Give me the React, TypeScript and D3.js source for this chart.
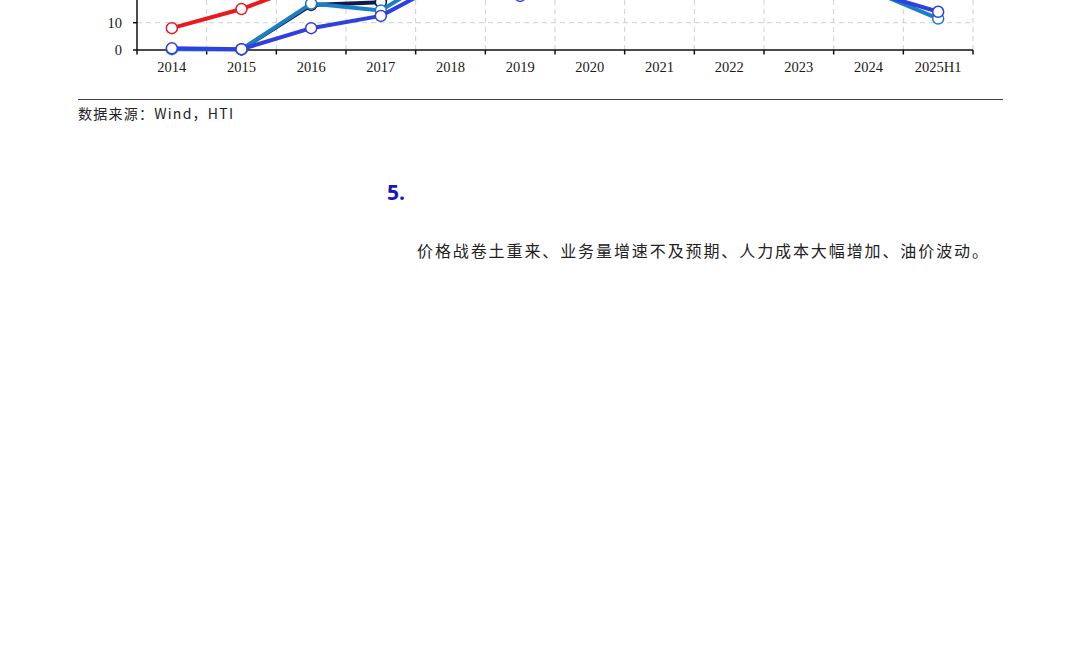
import * as d3 from 'd3';

// Categories on the x axis
const years = ['2014', '2015', '2016', '2017', '2018', '2019', '2020', '2021', '2022', '2023', '2024', '2025H1'];

// Series values (values above ~20 sit above the cropped top edge, estimated from line angles)
const redSeries: (number | null)[] = [8, 15, 24.5, 32, 38, 42, 45, 46, 44, 40, 36, 30];
const navySeries: (number | null)[] = [null, 0.2, 16.5, 17.5, 35, 40, 42, 43, 41, 38, 33, 26];
const tealSeries: (number | null)[] = [0.3, 0.2, 17, 14.5, 30, 33, 35, 36, 33, 29, 22.2, 11.5];
const blueSeries: (number | null)[] = [0.6, 0.3, 8, 12.5, 26, 19.8, 24, 27, 28, 26, 21.6, 14];

const yTicks = [0, 10, 20];

const series = [
  { name: 'red', values: redSeries, color: '#e8191f' },
  { name: 'navy', values: navySeries, color: '#0d1b4f' },
  { name: 'teal', values: tealSeries, color: '#1b7fc4' },
  { name: 'blue', values: blueSeries, color: '#2f3fe0' },
];

export default function App() {
  const left = 137;
  const right = 973;
  const baseY = 50;
  const pxPerUnit = 2.73;

  const x = d3.scaleBand<string>().domain(years).range([left, right]);
  const y = d3.scaleLinear().domain([0, 60]).range([baseY, baseY - 60 * pxPerUnit]);
  const cx = (yr: string) => (x(yr) ?? 0) + x.bandwidth() / 2;

  const line = d3.line<number | null>()
    .defined(d => d != null)
    .x((_, i) => cx(years[i]))
    .y(d => y(d as number));

  const boundaries = years.map(yr => (x(yr) ?? 0) + x.bandwidth());

  return (
    <div style={{ position: 'absolute', left: 0, top: 0 }}>
      <svg width={1080} height={669} style={{ display: 'block', background: '#fff' }}>
        {/* grid */}
        {yTicks.filter(t => t > 0).map(t => (
          <line key={'h' + t} x1={left} x2={right} y1={y(t)} y2={y(t)}
            stroke="#cfcfcf" strokeWidth={1} strokeDasharray="5,4" />
        ))}
        {boundaries.map((bx, i) => (
          <line key={'v' + i} x1={bx} x2={bx} y1={baseY} y2={y(60)}
            stroke="#cfcfcf" strokeWidth={1} strokeDasharray="5,4" />
        ))}

        {/* axes */}
        <line x1={left} x2={left} y1={baseY} y2={y(60)} stroke="#111" strokeWidth={1.5} />
        <line x1={left} x2={right} y1={baseY} y2={baseY} stroke="#111" strokeWidth={1.5} />
        {[left, ...boundaries].map((bx, i) => (
          <line key={'t' + i} x1={bx} x2={bx} y1={baseY} y2={baseY + 4.5} stroke="#111" strokeWidth={1.5} />
        ))}
        {yTicks.map(t => (
          <g key={'yt' + t}>
            <line x1={left - 4} x2={left} y1={y(t)} y2={y(t)} stroke="#111" strokeWidth={1.5} />
            <text x={left - 15} y={y(t)} dy="0.35em" textAnchor="end"
              fontFamily="'Liberation Serif', serif" fontSize={14.5} fill="#1a1a1a">{t}</text>
          </g>
        ))}
        {years.map(yr => (
          <text key={'xl' + yr} x={cx(yr)} y={72} textAnchor="middle"
            fontFamily="'Liberation Serif', serif" fontSize={14.5} fill="#1a1a1a">{yr}</text>
        ))}

        {/* series */}
        {series.map(s => (
          <g key={s.name}>
            <path d={line(s.values) ?? ''} fill="none" stroke={s.color} strokeWidth={4}
              strokeLinejoin="round" />
            {s.values.map((v, i) => v == null ? null : (
              <circle key={i} cx={cx(years[i])} cy={y(v)} r={5.5}
                fill="#fff" stroke={s.color} strokeWidth={1.5} />
            ))}
          </g>
        ))}

        {/* source */}
        <line x1={78} x2={1003} y1={99.5} y2={99.5} stroke="#444" strokeWidth={1} />
        <text x={78} y={119} fontFamily="'Noto Sans CJK SC', sans-serif" fontSize={14} fill="#222"
          textLength={155} lengthAdjust="spacing">数据来源：Wind，HTI</text>

        {/* section heading */}
        <text x={387} y={200} fontFamily="'Open Sans', sans-serif" fontWeight="bold" fontSize={21}
          fill="#1515c8">5.</text>
        <text x={417} y={257} fontFamily="'Noto Sans CJK SC', sans-serif" fontSize={16} fill="#222"
          textLength={571} lengthAdjust="spacing">价格战卷土重来、业务量增速不及预期、人力成本大幅增加、油价波动。</text>
      </svg>
    </div>
  );
}
